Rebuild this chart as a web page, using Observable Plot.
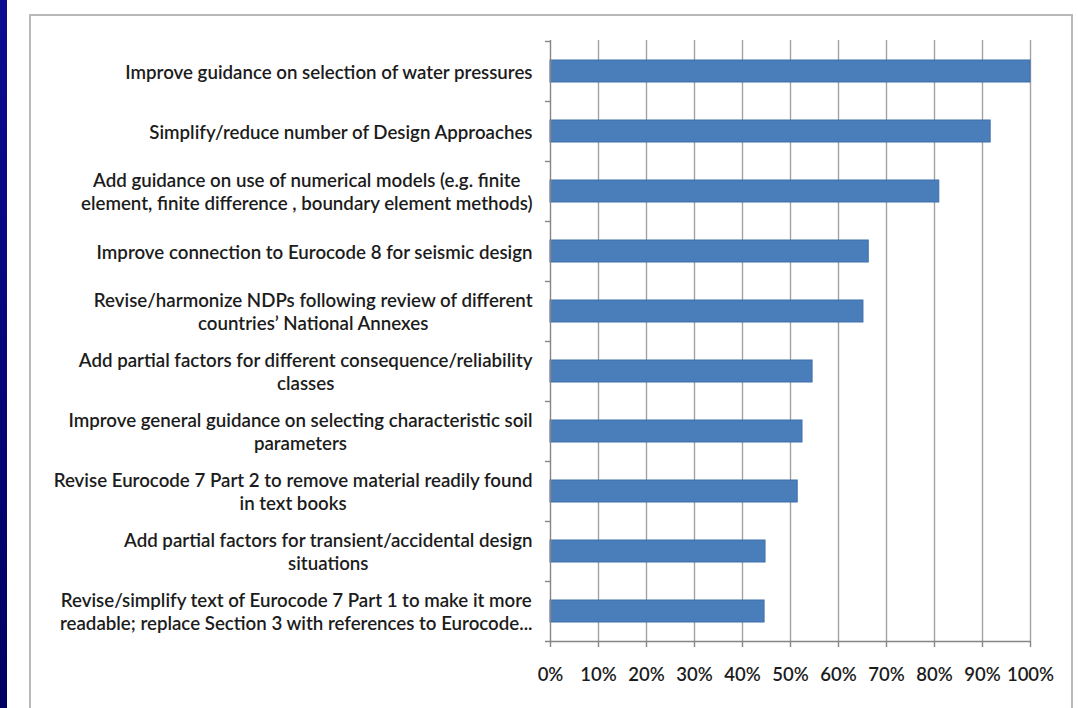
<!DOCTYPE html>
<html>
<head>
<meta charset="utf-8">
<script src="https://cdn.jsdelivr.net/npm/d3@7"></script>
<script src="https://cdn.jsdelivr.net/npm/@observablehq/plot@0.6"></script>
<style>
  html, body { margin: 0; padding: 0; background: #ffffff; }
  #page { position: relative; width: 1078px; height: 708px; overflow: hidden; background: #ffffff; }
  #strip { position: absolute; left: 0; top: 0; width: 7px; height: 708px; background: linear-gradient(#0c0c92, #000062); }
  #panel { position: absolute; left: 29px; top: 14px; width: 1044px; height: 720px; border: 2px solid #b9b9b9; box-sizing: border-box; background: #ffffff; }
  #chart { position: absolute; left: 0; top: 0; }
</style>
</head>
<body>
<div id="page">
  <div id="strip"></div>
  <div id="panel"></div>
  <div id="chart"></div>
</div>
<script>
const categories = [
  "Improve guidance on selection of water pressures",
  "Simplify/reduce number of Design Approaches",
  "Add guidance on use of numerical models (e.g. finite\nelement, finite difference , boundary element methods)",
  "Improve connection to Eurocode 8 for seismic design",
  "Revise/harmonize NDPs following review of different\ncountries\u2019 National Annexes",
  "Add partial factors for different consequence/reliability\nclasses",
  "Improve general guidance on selecting characteristic soil\nparameters",
  "Revise Eurocode 7 Part 2 to remove material readily found\nin text books",
  "Add partial factors for transient/accidental design\nsituations",
  "Revise/simplify text of Eurocode 7 Part 1 to make it more\nreadable; replace Section 3 with references to Eurocode..."
];
const values = [1.00, 0.917, 0.81, 0.663, 0.652, 0.546, 0.525, 0.515, 0.448, 0.446];
const tickValues = [0, 0.1, 0.2, 0.3, 0.4, 0.5, 0.6, 0.7, 0.8, 0.9, 1.0];

const data = categories.map((c, i) => ({category: c, value: values[i]}));

const plot = Plot.plot({
  width: 1078,
  height: 708,
  marginLeft: 550,
  marginRight: 48,
  marginTop: 40,
  marginBottom: 67,
  style: {background: "transparent", fontFamily: "Lato, 'Open Sans', sans-serif", fontSize: "18.7px", color: "#1c1c1c"},
  x: {domain: [0, 1], axis: null},
  y: {domain: categories, padding: 0, axis: null},
  marks: [
    Plot.ruleX(tickValues.filter(d => d > 0), {stroke: "#a3a3a3", strokeWidth: 1.4}),
    Plot.barX(data, {x: "value", y: "category", fill: "#4a7ebb", stroke: "#3f6fad", strokeWidth: 1, insetTop: 19, insetBottom: 19}),
    Plot.ruleX([0], {stroke: "#858585", strokeWidth: 1.4}),
    Plot.ruleY(categories, {y: d => d, x1: 0, x2: 0, insetLeft: -5, dy: -30, stroke: "#858585", strokeWidth: 1.4}),
    Plot.ruleY([categories[categories.length - 1]], {y: d => d, x1: 0, x2: 1, insetLeft: -5, dy: 30, stroke: "#858585", strokeWidth: 1.4}),
    Plot.axisX({ticks: tickValues, tickFormat: d3.format(".0%"), label: null, tickSize: 6, tickPadding: 20, stroke: "#858585", strokeWidth: 1.4, fontSize: 18.5, fontWeight: 600, fill: "#1c1c1c"}),
    Plot.text(data, {y: "category", text: "category", frameAnchor: "left", dx: -18, textAnchor: "end", lineAnchor: "middle", lineHeight: 1.23, fontWeight: 600, fill: "#1c1c1c"})
  ]
});

document.getElementById("chart").appendChild(plot);

function centerLines() {
  plot.querySelectorAll("text").forEach(t => {
    const spans = t.querySelectorAll("tspan");
    if (spans.length < 2) return;
    let w = 0;
    spans.forEach(s => { w = Math.max(w, s.getComputedTextLength()); });
    t.setAttribute("text-anchor", "middle");
    spans.forEach(s => s.setAttribute("x", -w / 2));
  });
}
centerLines();
if (document.fonts && document.fonts.ready) document.fonts.ready.then(centerLines);
</script>
</body>
</html>
